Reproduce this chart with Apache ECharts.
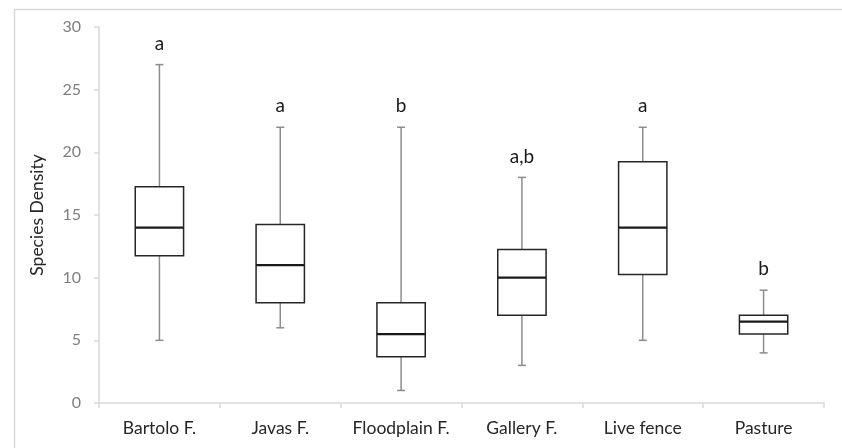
<!DOCTYPE html>
<html><head><meta charset="utf-8">
<script src="https://cdn.jsdelivr.net/npm/echarts@6/dist/echarts.min.js"></script>
<style>html,body{margin:0;padding:0;background:#fff}#c{width:842px;height:448px}</style>
</head><body><div id="c"></div>
<script>
const categories = ['Bartolo F.', 'Javas F.', 'Floodplain F.', 'Gallery F.', 'Live fence', 'Pasture'];
const whiskerLow = [5, 6, 1, 3, 5, 4];
const q1 = [11.75, 8, 3.7, 7, 10.25, 5.5];
const median = [14, 11, 5.5, 10, 14, 6.5];
const q3 = [17.25, 14.25, 8, 12.25, 19.25, 7];
const whiskerHigh = [27, 22, 22, 18, 22, 9];
const letters = ['a', 'a', 'b', 'a,b', 'a', 'b'];
const yTicks = [0, 5, 10, 15, 20, 25, 30];

const data = categories.map((c, i) => [i, whiskerLow[i], q1[i], median[i], q3[i], whiskerHigh[i], letters[i]]);
const FONT = 'Lato, "Open Sans", sans-serif';

const chart = echarts.init(document.getElementById('c'), null, {renderer: 'canvas'});
chart.setOption({
  animation: false,
  backgroundColor: '#fff',
  graphic: [{
    type: 'rect', left: 12, top: 7, shape: {width: 840, height: 450},
    style: {fill: 'none', stroke: '#d9d9d9', lineWidth: 1.5}, silent: true, z: -1
  }],
  grid: {left: 99, right: 18, top: 27, bottom: 45},
  xAxis: {
    type: 'category', data: categories,
    axisLine: {lineStyle: {color: '#d9d9d9', width: 1.5}},
    axisTick: {show: true, length: 5, lineStyle: {color: '#d9d9d9', width: 1.5}},
    axisLabel: {interval: 0, hideOverlap: false, color: '#262626', fontSize: 17.5, fontFamily: FONT, margin: 16}
  },
  yAxis: {
    type: 'value', min: yTicks[0], max: yTicks[yTicks.length - 1], interval: 5,
    name: 'Species Density', nameLocation: 'middle', nameGap: 53, nameRotate: 90,
    nameTextStyle: {color: '#262626', fontSize: 17.5, fontFamily: FONT},
    axisLine: {show: true, lineStyle: {color: '#d9d9d9', width: 1.5}},
    axisTick: {show: true, length: 5, lineStyle: {color: '#d9d9d9', width: 1.5}},
    axisLabel: {color: '#7f7f7f', fontSize: 16, fontFamily: FONT, margin: 18},
    splitLine: {show: false}
  },
  series: [{
    type: 'custom',
    data: data,
    encode: {x: 0, y: [1, 2, 3, 4, 5]},
    renderItem: function (params, api) {
      const x = api.value(0);
      const pLow = api.coord([x, api.value(1)]);
      const pQ1 = api.coord([x, api.value(2)]);
      const pMed = api.coord([x, api.value(3)]);
      const pQ3 = api.coord([x, api.value(4)]);
      const pHigh = api.coord([x, api.value(5)]);
      const bw = api.size([1, 0])[0] * 0.4;
      const cx = pLow[0];
      const cap = 4;
      const wStyle = {stroke: '#8c8c8c', lineWidth: 1.5};
      const bStyle = {stroke: '#262626', lineWidth: 1.5, fill: '#fff'};
      return {
        type: 'group',
        children: [
          {type: 'line', shape: {x1: cx, y1: pHigh[1], x2: cx, y2: pQ3[1]}, style: wStyle},
          {type: 'line', shape: {x1: cx, y1: pQ1[1], x2: cx, y2: pLow[1]}, style: wStyle},
          {type: 'line', shape: {x1: cx - cap, y1: pHigh[1], x2: cx + cap, y2: pHigh[1]}, style: wStyle},
          {type: 'line', shape: {x1: cx - cap, y1: pLow[1], x2: cx + cap, y2: pLow[1]}, style: wStyle},
          {type: 'rect', shape: {x: cx - bw / 2, y: pQ3[1], width: bw, height: pQ1[1] - pQ3[1]}, style: bStyle},
          {type: 'line', shape: {x1: cx - bw / 2, y1: pMed[1], x2: cx + bw / 2, y2: pMed[1]}, style: {stroke: '#1a1a1a', lineWidth: 2.2}},
          {type: 'text', x: cx, y: pHigh[1] - 21, style: {text: api.value(6), fill: '#1a1a1a', fontSize: 19, fontFamily: FONT, align: 'center', verticalAlign: 'middle'}}
        ]
      };
    }
  }]
});
</script></body></html>
